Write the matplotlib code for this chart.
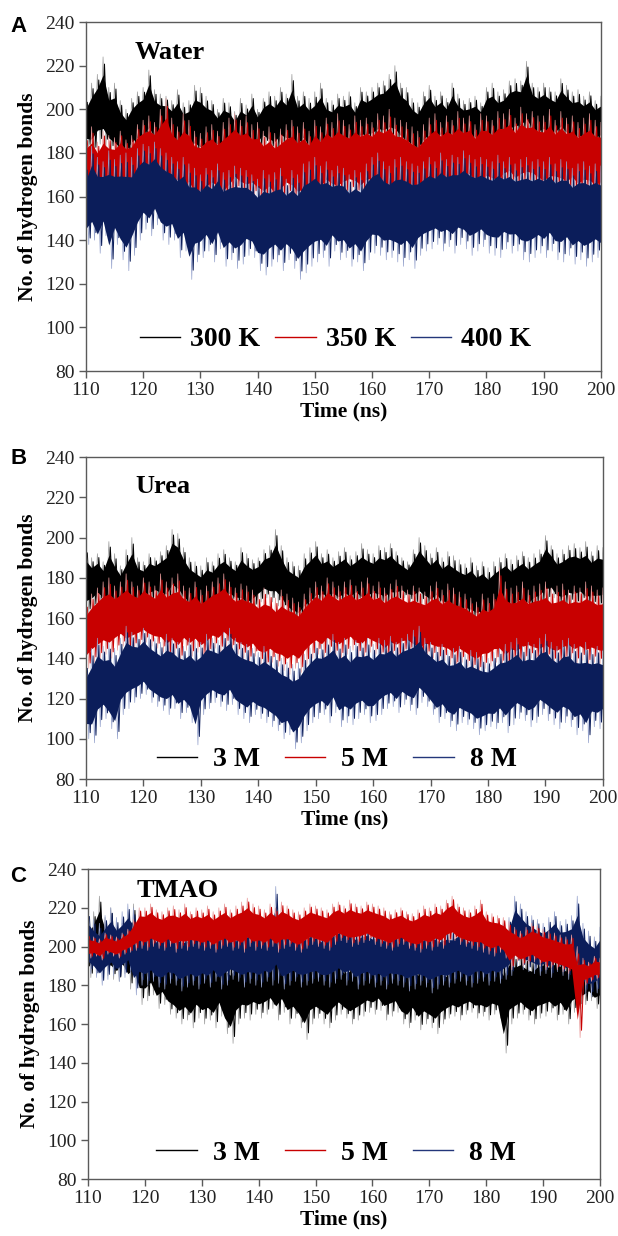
import numpy as np
import matplotlib
matplotlib.use("Agg")
import matplotlib.pyplot as plt
from matplotlib.lines import Line2D

# time axis, one value per ns
time_ns = list(range(110, 201))

# ---- Panel A: water (upper / lower spike envelopes)
a300_hi = [205,212,216,224,210,212,204,200,205,208, 210,218,209,207,206,204,209,203,204,211,
           210,206,204,200,205,203,199,205,202,207, 200,205,208,206,210,207,216,206,208,205,
           208,212,205,204,207,206,208,203,210,208, 210,212,213,216,220,212,210,205,203,208,
           211,206,208,205,212,207,204,205,206,203, 210,212,208,209,213,214,213,222,212,210,
           212,210,208,214,211,208,209,206,208,204, 206]
a300_lo = [182,180,184,183,181,178,177,176,180,182, 183,185,182,181,184,180,178,177,179,178,
           176,179,181,180,178,180,177,176,179,181, 182,184,181,180,183,182,180,179,182,178,
           177,179,180,178,181,182,180,181,183,184, 184,186,185,186,184,182,180,179,177,181,
           183,182,184,181,183,180,182,181,183,182, 184,182,183,185,186,187,188,189,186,185,
           186,184,185,187,184,183,182,184,185,183, 184]
a350_hi = [188,192,185,190,188,187,190,186,188,193, 195,197,194,200,205,196,192,198,195,190,
           189,192,193,190,194,196,198,195,197,193, 194,190,192,189,191,193,195,192,194,190,
           195,192,196,194,198,195,193,197,195,196, 194,198,197,200,196,195,194,192,190,193,
           196,198,194,197,195,199,196,197,193,198, 197,195,199,198,200,196,201,198,199,197,
           197,200,195,199,196,197,194,196,198,195, 194]
a350_lo = [158,155,160,162,158,160,163,165,162,164, 165,163,166,162,160,158,162,157,160,155,
           156,158,160,159,155,158,162,160,158,160, 157,156,158,155,157,160,158,155,156,158,
           160,158,161,159,157,160,162,160,158,161, 162,160,158,156,155,157,154,152,153,156,
           158,160,162,161,163,160,162,164,161,160, 163,162,160,164,165,162,163,165,164,162,
           160,162,163,161,160,162,159,161,160,158, 160]
a400_hi = [175,183,178,176,181,177,179,180,178,182, 184,183,185,182,180,178,176,178,175,173,
           170,173,172,175,171,172,174,173,172,170, 168,172,170,171,173,168,172,170,175,176,
           178,174,176,172,174,173,170,172,171,175, 178,180,176,174,177,178,176,175,174,176,
           178,176,180,177,179,178,181,179,177,178, 177,176,179,176,178,175,177,178,176,177,
           176,178,175,177,176,173,175,176,174,175, 174]
a400_lo = [138,140,134,142,127,138,131,126,133,140, 145,142,147,140,138,140,132,135,122,130,
           132,135,130,136,128,131,127,129,133,132, 126,124,128,130,126,131,127,122,125,128,
           130,132,128,135,131,132,128,130,126,131, 134,133,131,132,130,128,131,127,133,135,
           136,138,135,137,134,138,136,133,135,137, 134,133,132,136,134,135,131,130,132,134,
           132,135,131,130,133,129,131,128,130,132, 130]

# ---- Panel B: urea
b3_hi = [195,190,192,188,198,192,186,194,200,190, 188,192,190,193,196,204,202,195,190,188,
         186,190,188,192,194,190,188,195,192,189, 190,194,196,204,196,190,188,186,192,195,
         198,192,194,190,193,195,191,193,197,194, 192,196,195,197,193,190,188,194,200,196,
         192,195,190,193,191,189,187,190,186,188, 185,188,190,192,189,191,193,190,192,194,
         201,196,192,194,196,197,195,198,193,196, 195]
b3_lo = [162,165,168,166,164,160,162,158,160,163, 165,168,170,168,166,170,168,165,162,160,
         158,160,162,164,165,168,166,164,162,165, 168,170,168,166,164,160,158,157,160,162,
         165,167,166,168,165,167,166,168,164,166, 168,166,165,167,168,170,168,166,167,165,
         164,166,163,162,160,158,160,158,157,158, 156,158,160,162,160,163,164,162,165,166,
         168,170,166,165,167,166,168,164,166,165, 166]
b5_hi = [168,172,175,178,180,176,178,182,178,176, 180,178,176,182,178,180,182,176,175,178,
         174,176,178,180,182,178,175,177,176,174, 172,175,173,170,174,172,170,168,172,175,
         178,176,180,178,176,178,179,176,178,180, 176,178,175,177,179,176,174,176,175,173,
         176,178,174,177,175,173,172,170,168,172, 170,172,185,178,175,176,178,174,176,177,
         178,175,176,177,174,176,175,178,176,174, 175]
b5_lo = [135,138,140,142,140,144,146,142,145,147, 148,146,145,143,140,142,138,144,141,143,
         140,142,145,143,146,144,142,140,138,141, 137,135,138,136,134,132,135,133,137,140,
         142,140,143,141,140,142,144,141,140,143, 142,140,138,141,139,142,143,140,138,141,
         140,138,139,137,135,138,136,134,133,135, 136,138,135,133,137,136,138,140,138,137,
         139,137,136,138,140,137,139,136,138,137, 136]
b8_hi = [138,145,150,146,148,145,150,156,153,152, 155,152,150,148,152,150,148,146,150,149,
         148,152,150,149,153,155,150,148,147,145, 143,146,144,142,140,138,137,138,142,145,
         148,147,150,152,148,150,146,149,148,150, 147,150,149,151,148,150,152,154,156,150,
         148,146,147,144,145,146,142,144,143,141, 140,143,145,147,148,150,146,148,147,150,
         152,148,146,149,150,147,146,148,145,146, 144]
b8_lo = [100,98,106,110,105,100,112,115,118,120, 122,118,116,114,112,115,110,113,108,97,
         112,115,118,116,114,117,112,110,108,112, 110,108,106,104,100,102,95,98,104,108,
         110,112,108,113,106,108,107,110,112,108, 109,112,115,116,113,117,114,112,118,116,
         112,108,110,106,104,108,107,105,102,104, 106,105,108,103,107,110,109,106,108,112,
         109,107,105,108,106,102,104,98,106,105, 108]

# ---- Panel C: TMAO
c3_hi = [212,218,226,215,220,210,212,218,222,214, 205,208,202,204,200,198,195,197,196,199,
         197,195,198,200,196,194,197,199,201,198, 200,198,196,199,202,197,194,196,195,197,
         194,196,193,195,197,192,194,195,196,198, 197,199,200,198,196,194,193,195,192,194,
         193,195,192,190,194,196,193,195,197,194, 196,194,197,195,198,196,197,195,194,196,
         197,195,198,196,194,197,199,196,198,197, 196]
c3_lo = [184,186,188,185,183,182,186,178,180,170, 172,175,168,170,165,163,160,162,158,163,
         160,162,158,164,155,150,160,163,162,165, 163,165,168,162,166,160,163,158,152,160,
         163,160,158,162,165,163,160,162,164,166, 165,167,162,164,166,160,158,162,157,160,
         158,155,160,163,164,162,165,166,163,164, 162,165,163,145,160,163,165,162,160,163,
         164,166,162,165,160,166,168,170,172,168, 170]
c8_hi = [218,214,212,216,220,215,218,222,220,216, 210,212,208,210,211,212,209,208,210,211,
         208,210,212,209,213,210,208,212,211,214, 212,210,214,231,212,210,211,213,209,211,
         210,208,212,211,213,214,212,210,211,212, 210,211,209,208,210,212,211,213,210,209,
         211,210,208,210,209,211,210,208,212,210, 209,211,210,212,215,226,222,218,216,214,
         212,215,218,213,214,216,226,212,208,205, 210]
c8_lo = [186,184,180,183,185,182,184,186,175,180, 180,182,179,178,181,180,177,179,180,178,
         181,179,182,178,180,183,182,179,181,180, 179,182,180,181,178,180,182,179,180,181,
         182,180,179,181,183,180,182,178,180,181, 179,180,178,181,180,179,177,178,180,179,
         176,178,180,179,181,182,180,179,181,182, 180,182,181,183,185,190,188,187,186,185,
         186,184,187,185,183,182,176,175,174,176, 178]
c5_hi = [206,205,204,207,206,205,207,209,214,220, 220,222,219,218,220,221,219,222,218,220,
         219,221,218,220,222,219,221,223,225,222, 221,219,222,220,223,221,219,218,220,222,
         221,220,219,222,223,221,224,222,221,223, 222,221,220,218,219,220,218,217,219,221,
         220,222,221,224,226,222,220,219,221,224, 218,217,216,215,213,210,208,210,212,211,
         209,208,207,206,205,206,200,194,192,195, 194]
c5_lo = [194,195,193,196,195,194,196,197,198,199, 198,200,199,198,200,197,199,198,200,199,
         198,199,197,199,200,198,199,197,200,198, 199,198,200,197,199,200,198,197,199,201,
         200,199,198,201,203,202,200,201,202,203, 201,200,199,198,200,201,199,198,197,199,
         198,200,199,202,203,201,200,199,198,197, 196,195,197,194,188,192,190,191,192,190,
         188,189,188,187,186,184,153,180,182,183, 184]

# colours: (dark core, light spikes)
BLACK = ("#000000", "#9a9a9a")
RED = ("#c80000", "#e89a9a")
BLUE = ("#0b1d5a", "#95a2cc")


def draw_band(ax, hi, lo, cols):
    x = np.array(time_ns, dtype=float)
    hi = np.array(hi, dtype=float)
    lo = np.array(lo, dtype=float)
    # saw-tooth through the spike tops and bottoms
    zx = np.column_stack([x, x + 0.5]).ravel()[:-1]
    zy = np.column_stack([hi, lo]).ravel()[:-1]
    ax.plot(zx, zy, color=cols[1], lw=0.5, zorder=2)
    span = hi - lo
    zy2 = np.column_stack([hi - 0.08 * span, lo + 0.08 * span]).ravel()[:-1]
    ax.plot(zx + 0.25, zy2, color=cols[0], lw=0.7, zorder=2)
    ax.fill_between(x, lo + 0.2 * span, hi - 0.2 * span, color=cols[0], lw=0, zorder=2)


def style_axes(ax, name, title_y):
    ax.set_xlim(110, 200)
    ax.set_ylim(80, 240)
    ax.set_xticks(range(110, 201, 10))
    ax.set_yticks(range(80, 241, 20))
    for s in ax.spines.values():
        s.set_color("#5a5a5a")
        s.set_linewidth(1.0)
    ax.tick_params(direction="out", length=5, width=1, color="#5a5a5a",
                   labelsize=14, labelcolor="#222222", pad=3)
    for lab in ax.get_xticklabels() + ax.get_yticklabels():
        lab.set_family("Liberation Serif")
    ax.set_xlabel("Time (ns)", fontsize=15.5, fontweight="bold",
                  family="Liberation Serif", labelpad=2)
    ax.set_ylabel("No. of hydrogen bonds", fontsize=15.5, fontweight="bold",
                  family="Liberation Serif", labelpad=5)
    ax.text(0.095, title_y, name, transform=ax.transAxes, fontsize=19,
            fontweight="bold", family="Liberation Serif", va="center", ha="left", zorder=5)


def add_legend(ax, labels, cols, y, colsp, tpad):
    handles = [Line2D([], [], color=c[0] if c is not BLUE else "#23367a", lw=1.0) for c in cols]
    ax.legend(handles, labels, loc="center", bbox_to_anchor=(0.485, y), ncol=3,
              frameon=False, handlelength=1.45, handletextpad=tpad, columnspacing=colsp,
              prop={"family": "Liberation Serif", "weight": "bold", "size": 20})


fig = plt.figure(figsize=(6.18, 12.36), dpi=100)

axA = fig.add_axes([0.139, 0.6998, 0.8333, 0.2824])
draw_band(axA, a300_hi, a300_lo, BLACK)
draw_band(axA, a350_hi, a350_lo, RED)
draw_band(axA, a400_hi, a400_lo, BLUE)
style_axes(axA, "Water", 0.914)
add_legend(axA, ["300 K", "350 K", "400 K"], [BLACK, RED, BLUE], 0.09, 0.55, 0.36)

axB = fig.add_axes([0.139, 0.3697, 0.8366, 0.2605])
draw_band(axB, b3_hi, b3_lo, BLACK)
draw_band(axB, b5_hi, b5_lo, RED)
draw_band(axB, b8_hi, b8_lo, BLUE)
style_axes(axB, "Urea", 0.91)
add_legend(axB, ["3 M", "5 M", "8 M"], [BLACK, RED, BLUE], 0.06, 0.9, 0.58)

axC = fig.add_axes([0.1424, 0.0461, 0.8285, 0.2508])
draw_band(axC, c3_hi, c3_lo, BLACK)
draw_band(axC, c8_hi, c8_lo, BLUE)
draw_band(axC, c5_hi, c5_lo, RED)
style_axes(axC, "TMAO", 0.932)
add_legend(axC, ["3 M", "5 M", "8 M"], [BLACK, RED, BLUE], 0.084, 0.9, 0.58)

for letter, ypix in [("A", 26), ("B", 458), ("C", 877)]:
    fig.text(10 / 618, 1 - ypix / 1236, letter, fontsize=16, fontweight="bold",
             family="Liberation Sans", va="center", ha="left")

fig.savefig("out.png", dpi=100)
